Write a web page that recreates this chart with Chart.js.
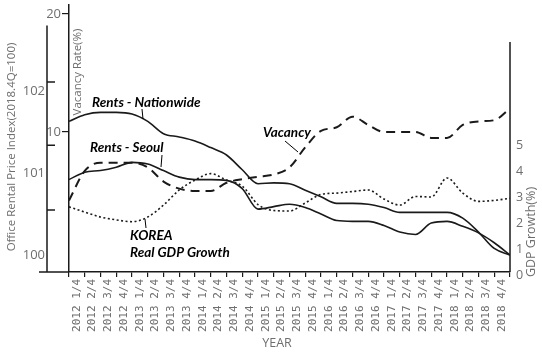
<!DOCTYPE html>
<html>
<head>
<meta charset="utf-8">
<script src="https://cdn.jsdelivr.net/npm/chart.js@4"></script>
<style>
body { margin: 0; background: #fff; }
#wrap { width: 542px; height: 353px; }
</style>
</head>
<body>
<div id="wrap"><canvas id="myChart"></canvas></div>
<script>
var quarters = ['2012 1/4', '2012 2/4', '2012 3/4', '2012 4/4',
    '2013 1/4', '2013 2/4', '2013 3/4', '2013 4/4',
    '2014 1/4', '2014 2/4', '2014 3/4', '2014 4/4',
    '2015 1/4', '2015 2/4', '2015 3/4', '2015 4/4',
    '2016 1/4', '2016 2/4', '2016 3/4', '2016 4/4',
    '2017 1/4', '2017 2/4', '2017 3/4', '2017 4/4',
    '2018 1/4', '2018 2/4', '2018 3/4', '2018 4/4'];

// values read at every tick mark of the x axis (29 marks, left axis to right axis)
var rentsNationwide = [101.63, 101.71, 101.74, 101.74, 101.72, 101.63, 101.48, 101.44, 101.39, 101.31,
    101.22, 101.04, 100.87, 100.88, 100.87, 100.79, 100.71, 100.63, 100.63, 100.62,
    100.58, 100.52, 100.52, 100.52, 100.52, 100.45, 100.28, 100.08, 100.00];
var rentsSeoul = [100.92, 101.01, 101.03, 101.07, 101.13, 101.11, 101.03, 100.95, 100.92, 100.92,
    100.91, 100.81, 100.56, 100.59, 100.62, 100.58, 100.50, 100.42, 100.41, 100.41,
    100.36, 100.28, 100.25, 100.39, 100.41, 100.35, 100.27, 100.15, 100.00];
var vacancy = [4.2, 6.7, 7.4, 7.4, 7.4, 7.0, 5.8, 5.2, 5.0, 5.0,
    5.7, 6.0, 6.2, 6.4, 7.0, 8.7, 10.1, 10.4, 11.3, 10.6,
    10.0, 10.0, 10.0, 9.5, 9.5, 10.6, 10.9, 11.0, 12.0];
var gdpGrowth = [2.62, 2.42, 2.23, 2.12, 2.05, 2.23, 2.69, 3.27, 3.65, 3.90,
    3.65, 3.42, 2.71, 2.48, 2.46, 2.77, 3.10, 3.15, 3.21, 3.27,
    2.92, 2.69, 3.02, 3.00, 3.73, 3.15, 2.83, 2.87, 2.95];

var rentTicks = [100, 101, 102];
var vacancyTicks = [10, 20];
var gdpTicks = [0, 1, 2, 3, 4, 5];

var grey = '#6e6e6e';
var ink = '#1a1a1a';

function points(arr) {
    return arr.map(function (v, i) { return { x: i, y: v }; });
}

function upText(ctx, text, x, y) {
    ctx.save();
    ctx.translate(x, y);
    ctx.rotate(-Math.PI / 2);
    ctx.textAlign = 'center';
    ctx.textBaseline = 'middle';
    ctx.fillText(text, 0, 0);
    ctx.restore();
}

// fixed axis sizes, and no extra room for the end labels
function fixWidth(w) {
    return function (s) {
        s.width = w;
        s.paddingTop = 0;
        s.paddingBottom = 0;
    };
}

// axis pieces, titles and the labels with their little pointer lines
var extras = {
    id: 'extras',
    afterDraw: function (chart) {
        var ctx = chart.ctx;
        var area = chart.chartArea;
        var rent = chart.scales.yRent;
        var gdp = chart.scales.yGdp;
        ctx.save();
        ctx.strokeStyle = ink;
        ctx.lineWidth = 1.5;
        ctx.beginPath();
        ctx.moveTo(rent.right, rent.getPixelForValue(102.8));
        ctx.lineTo(rent.right, area.bottom);
        [100.55, 101.34, 102.11].forEach(function (v) {
            var y = rent.getPixelForValue(v);
            ctx.moveTo(rent.right, y);
            ctx.lineTo(rent.right + 8, y);
        });
        ctx.moveTo(area.right, gdp.getPixelForValue(8.96));
        ctx.lineTo(area.right, area.bottom);
        ctx.moveTo(rent.right - 8, area.bottom);
        ctx.lineTo(area.left, area.bottom);
        ctx.stroke();

        ctx.fillStyle = grey;
        ctx.font = '11.5px "Open Sans"';
        upText(ctx, 'Office Rental Price Index(2018.4Q=100)', 12, 147);
        ctx.font = '11.5px "Open Sans"';
        upText(ctx, 'Vacancy Rate(%)', area.left + 9, 72);
        ctx.font = '12.5px "Open Sans"';
        upText(ctx, 'GDP Growth(%)', 531, 232);
        ctx.textAlign = 'center';
        ctx.textBaseline = 'middle';
        ctx.fillText('YEAR', 277, 343);

        ctx.fillStyle = '#000';
        ctx.font = 'italic bold 13.5px Lato';
        ctx.textAlign = 'left';
        ctx.fillText('Rents - Nationwide', 92, 103);
        ctx.fillText('Rents - Seoul', 90, 148);
        ctx.fillText('Vacancy', 263, 133);
        ctx.fillText('KOREA', 130, 236);
        ctx.fillText('Real GDP Growth', 130, 253);

        ctx.lineWidth = 1;
        ctx.strokeStyle = '#000';
        ctx.beginPath();
        ctx.moveTo(142, 109); ctx.lineTo(143, 119);
        ctx.moveTo(162, 155); ctx.lineTo(161, 167);
        ctx.moveTo(285, 141); ctx.lineTo(298, 152);
        ctx.moveTo(145, 219); ctx.lineTo(146, 228);
        ctx.stroke();
        ctx.restore();
    }
};

var ctx = document.getElementById('myChart');
var myChart = new Chart(ctx, {
    type: 'line',
    data: {
        labels: quarters,
        datasets: [{
            label: 'Rents - Nationwide',
            data: points(rentsNationwide),
            yAxisID: 'yRent',
            borderColor: ink,
            borderWidth: 1.6,
            cubicInterpolationMode: 'monotone'
        }, {
            label: 'Rents - Seoul',
            data: points(rentsSeoul),
            yAxisID: 'yRent',
            borderColor: ink,
            borderWidth: 1.6,
            cubicInterpolationMode: 'monotone'
        }, {
            label: 'Vacancy',
            data: points(vacancy),
            yAxisID: 'yVac',
            borderColor: ink,
            borderWidth: 2,
            borderDash: [9, 6],
            cubicInterpolationMode: 'monotone'
        }, {
            label: 'KOREA Real GDP Growth',
            data: points(gdpGrowth),
            yAxisID: 'yGdp',
            borderColor: ink,
            borderWidth: 1.6,
            borderDash: [2, 2.5],
            cubicInterpolationMode: 'monotone'
        }]
    },
    options: {
        responsive: true,
        maintainAspectRatio: false,
        animation: false,
        layout: { padding: { top: 5, left: 0, right: 0, bottom: 0 } },
        elements: { point: { radius: 0 }, line: { fill: false } },
        plugins: { legend: { display: false }, tooltip: { enabled: false } },
        scales: {
            xd: {
                type: 'linear',
                display: false,
                min: 0,
                max: 28
            },
            x: {
                type: 'category',
                offset: true,
                afterFit: function (s) {
                    s.height = 81;
                    s.paddingLeft = 0;
                    s.paddingRight = 0;
                },
                border: { display: true, color: ink, width: 1.5 },
                grid: { drawOnChartArea: false, offset: true, tickLength: 5, color: ink, lineWidth: 1.2 },
                ticks: {
                    autoSkip: false,
                    minRotation: 90,
                    maxRotation: 90,
                    padding: 2,
                    color: grey,
                    font: { family: '"DejaVu Sans Mono"', size: 11 }
                }
            },
            yVac: {
                position: 'left',
                weight: 0,
                min: -1.864,
                max: 20.763,
                afterFit: fixWidth(22),
                afterBuildTicks: function (s) {
                    s.ticks = vacancyTicks.map(function (v) { return { value: v }; });
                },
                border: { display: true, color: ink, width: 1.5 },
                grid: { drawOnChartArea: false, tickLength: 7, color: ink, lineWidth: 1.2 },
                ticks: { padding: 1, color: grey, font: { family: '"Open Sans"', size: 13 } }
            },
            yRent: {
                position: 'left',
                weight: 1,
                min: 99.793,
                max: 103.049,
                afterFit: fixWidth(47),
                afterBuildTicks: function (s) {
                    s.ticks = rentTicks.map(function (v) { return { value: v }; });
                },
                border: { display: false },
                grid: { drawOnChartArea: false, drawTicks: false },
                ticks: { padding: 2, color: grey, font: { family: '"Open Sans"', size: 13 } }
            },
            yGdp: {
                position: 'right',
                min: 0.115,
                max: 10.385,
                afterFit: fixWidth(32),
                afterBuildTicks: function (s) {
                    s.ticks = gdpTicks.map(function (v) { return { value: v }; });
                },
                border: { display: false },
                grid: { drawOnChartArea: false, drawTicks: false },
                ticks: { padding: 6, color: grey, font: { family: '"Open Sans"', size: 12.5 } }
            }
        }
    },
    plugins: [extras]
});
</script>
</body>
</html>
